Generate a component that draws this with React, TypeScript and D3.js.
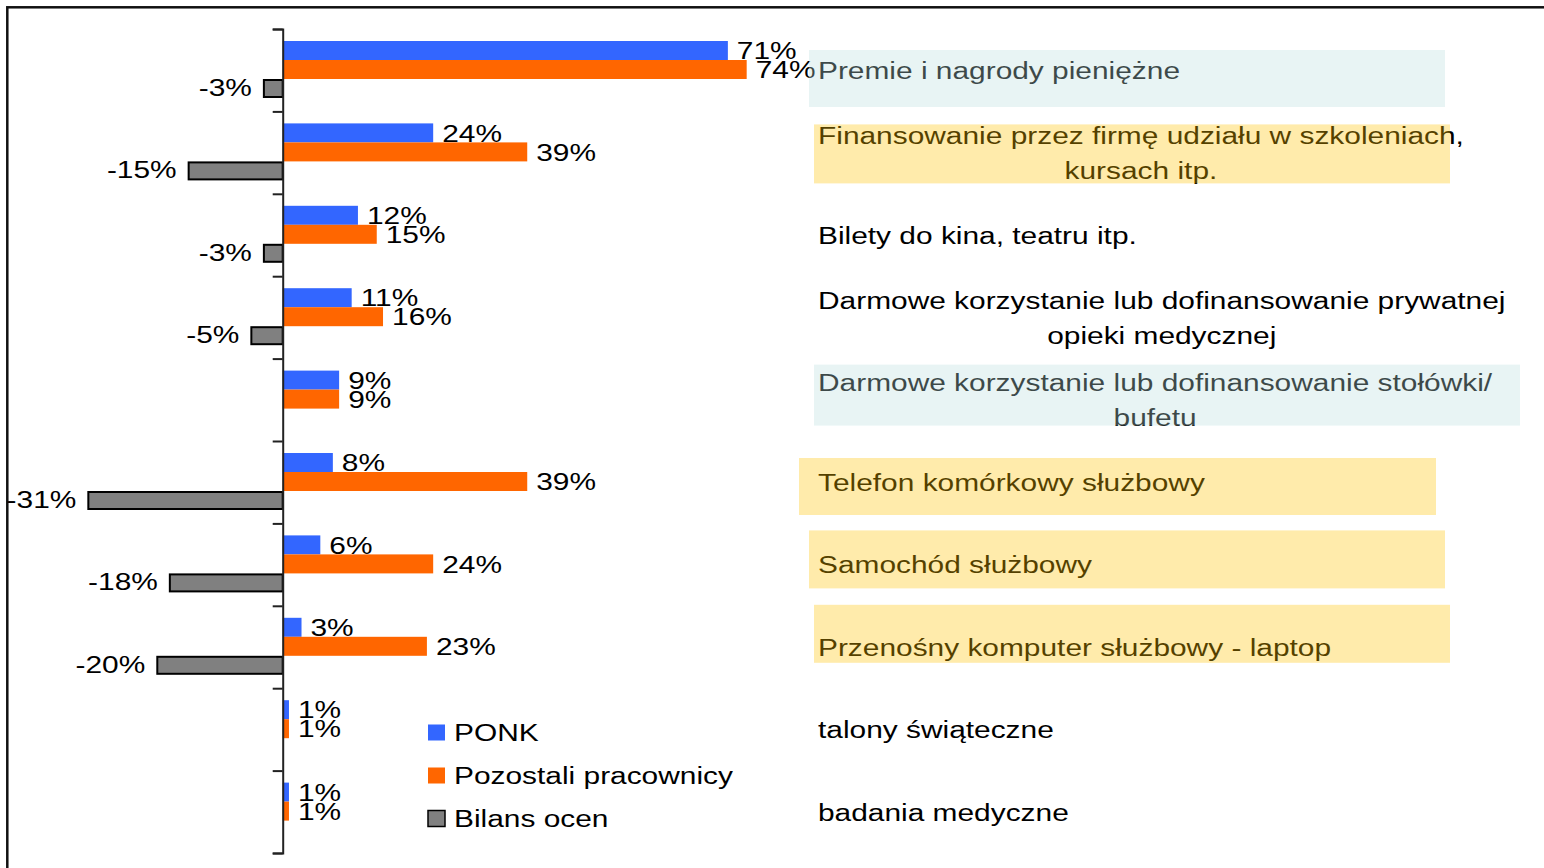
import React, { useEffect, useRef } from "react";
import * as d3 from "d3";

// categories (top to bottom), "\n" marks a line break in the label
const categories = [
  "Premie i nagrody pieniężne",
  "Finansowanie przez firmę udziału w szkoleniach,\nkursach itp.",
  "Bilety do kina, teatru itp.",
  "Darmowe korzystanie lub dofinansowanie prywatnej\nopieki medycznej",
  "Darmowe korzystanie lub dofinansowanie stołówki/\nbufetu",
  "Telefon komórkowy służbowy",
  "Samochód służbowy",
  "Przenośny komputer służbowy - laptop",
  "talony świąteczne",
  "badania medyczne",
];

const ponk = [71, 24, 12, 11, 9, 8, 6, 3, 1, 1];
const pozostali = [74, 39, 15, 16, 9, 39, 24, 23, 1, 1];
const bilans = [-3, -15, -3, -5, 0, -31, -18, -20, 0, 0];

const seriesNames = ["PONK", "Pozostali pracownicy", "Bilans ocen"];
const seriesColors = ["#3366ff", "#ff6600", "#808080"];

// highlight boxes over some category labels (annotation layer)
const highlights = [
  { cat: 0, fill: "#b9dede", x0: 809, x1: 1445, dy0: 21, dy1: 78 },
  { cat: 1, fill: "#ffc200", x0: 814, x1: 1450, dy0: 13, dy1: 72 },
  { cat: 4, fill: "#b9dede", x0: 814, x1: 1520, dy0: 6, dy1: 67 },
  { cat: 5, fill: "#ffc200", x0: 799, x1: 1436, dy0: 17, dy1: 74 },
  { cat: 6, fill: "#ffc200", x0: 809, x1: 1445, dy0: 7, dy1: 65 },
  { cat: 7, fill: "#ffc200", x0: 814, x1: 1450, dy0: -1, dy1: 57 },
];

const W = 1544;
const H = 868;
const FONT = "'Liberation Sans', Arial, sans-serif";
const FS = 24.5;
const SX = 1.22; // the original text is stretched horizontally

const App: React.FC = () => {
  const ref = useRef<SVGSVGElement>(null);

  useEffect(() => {
    const svg = d3.select(ref.current);
    svg.selectAll("*").remove();

    const zeroX = 282.7;
    const pxPerPct = 6.27;
    const x = d3
      .scaleLinear()
      .domain([-40, 80])
      .range([zeroX - 40 * pxPerPct, zeroX + 80 * pxPerPct]);

    const y = d3.scaleBand<string>().domain(categories).range([29, 853]);
    const inner = d3.scaleBand<string>().domain(seriesNames).range([12, 69]);
    const bw = inner.bandwidth();

    const addText = (
      g: d3.Selection<any, unknown, null, undefined>,
      tx: number,
      ty: number,
      str: string,
      anchor: string
    ) =>
      g
        .append("text")
        .attr("transform", `translate(${tx},${ty}) scale(${SX},1)`)
        .attr("text-anchor", anchor)
        .attr("font-family", FONT)
        .attr("font-size", FS)
        .attr("fill", "#000")
        .text(str);

    // frame
    svg
      .append("rect")
      .attr("x", 7.3)
      .attr("y", 7.3)
      .attr("width", 1600)
      .attr("height", 900)
      .attr("fill", "none")
      .attr("stroke", "#111")
      .attr("stroke-width", 2.5);

    const g = svg.append("g");
    const base = 0.358 * FS; // baseline offset for cap-centred text

    categories.forEach((c, i) => {
      const y0 = y(c)!;
      // PONK
      const yb = y0 + inner("PONK")!;
      g.append("rect")
        .attr("x", x(0))
        .attr("y", yb)
        .attr("width", x(ponk[i]) - x(0))
        .attr("height", bw)
        .attr("fill", seriesColors[0]);
      // Pozostali
      const yo = y0 + inner("Pozostali pracownicy")!;
      g.append("rect")
        .attr("x", x(0))
        .attr("y", yo)
        .attr("width", x(pozostali[i]) - x(0))
        .attr("height", bw)
        .attr("fill", seriesColors[1]);
      // Bilans
      const yg = y0 + inner("Bilans ocen")!;
      if (bilans[i] !== 0) {
        g.append("rect")
          .attr("x", x(bilans[i]))
          .attr("y", yg + 1)
          .attr("width", x(0) - x(bilans[i]))
          .attr("height", bw - 2)
          .attr("fill", seriesColors[2])
          .attr("stroke", "#000")
          .attr("stroke-width", 2);
      }
    });

    // axis with ticks on category boundaries
    const yLin = d3
      .scaleLinear()
      .domain([0, categories.length])
      .range([29, 853]);
    const axis = svg
      .append("g")
      .attr("transform", `translate(${zeroX},0)`)
      .call(
        d3
          .axisLeft(yLin)
          .ticks(categories.length)
          .tickSize(10)
          .tickSizeOuter(10)
          .tickFormat(() => "")
      );
    axis.selectAll("path, line").attr("stroke", "#222").attr("stroke-width", 2);

    // value labels
    const lab = svg.append("g");
    categories.forEach((c, i) => {
      const y0 = y(c)!;
      const yb = y0 + inner("PONK")! + bw / 2;
      const yo = y0 + inner("Pozostali pracownicy")! + bw / 2;
      const yg = y0 + inner("Bilans ocen")! + bw / 2;
      addText(lab, x(ponk[i]) + 9, yb + base, `${ponk[i]}%`, "start");
      addText(lab, x(pozostali[i]) + 9, yo + base, `${pozostali[i]}%`, "start");
      if (bilans[i] !== 0)
        addText(lab, x(bilans[i]) - 12, yg + base - 1.5, `${bilans[i]}%`, "end");
    });

    // category labels on the right
    const catX = 818;
    const lineH = 35;
    categories.forEach((c) => {
      const lines = c.split("\n");
      const cy = y(c)! + y.bandwidth() / 2;
      if (lines.length === 1) {
        addText(lab, catX, cy + base, lines[0], "start");
      } else {
        const first = addText(lab, catX, cy - lineH / 2 + base, lines[0], "start");
        const w = (first.node() as SVGTextElement).getComputedTextLength() * SX;
        addText(lab, catX + w / 2, cy + lineH / 2 + base, lines[1], "middle");
      }
    });

    // highlight overlays
    highlights.forEach((h) => {
      const y0 = y(categories[h.cat])!;
      svg
        .append("rect")
        .attr("x", h.x0)
        .attr("y", y0 + h.dy0)
        .attr("width", h.x1 - h.x0)
        .attr("height", h.dy1 - h.dy0)
        .attr("fill", h.fill)
        .attr("fill-opacity", 0.33);
    });

    // legend
    const leg = svg.append("g");
    seriesNames.forEach((s, i) => {
      const cy = 732.5 + i * 43;
      const r = leg
        .append("rect")
        .attr("x", 428)
        .attr("y", cy - 8)
        .attr("width", 17)
        .attr("height", 16)
        .attr("fill", seriesColors[i]);
      if (i === 2) r.attr("stroke", "#000").attr("stroke-width", 1.5);
      addText(leg, 454, cy + base, s, "start");
    });
  }, []);

  return (
    <svg
      ref={ref}
      width={W}
      height={H}
      style={{ position: "absolute", left: 0, top: 0, background: "#fff" }}
    />
  );
};

export default App;
